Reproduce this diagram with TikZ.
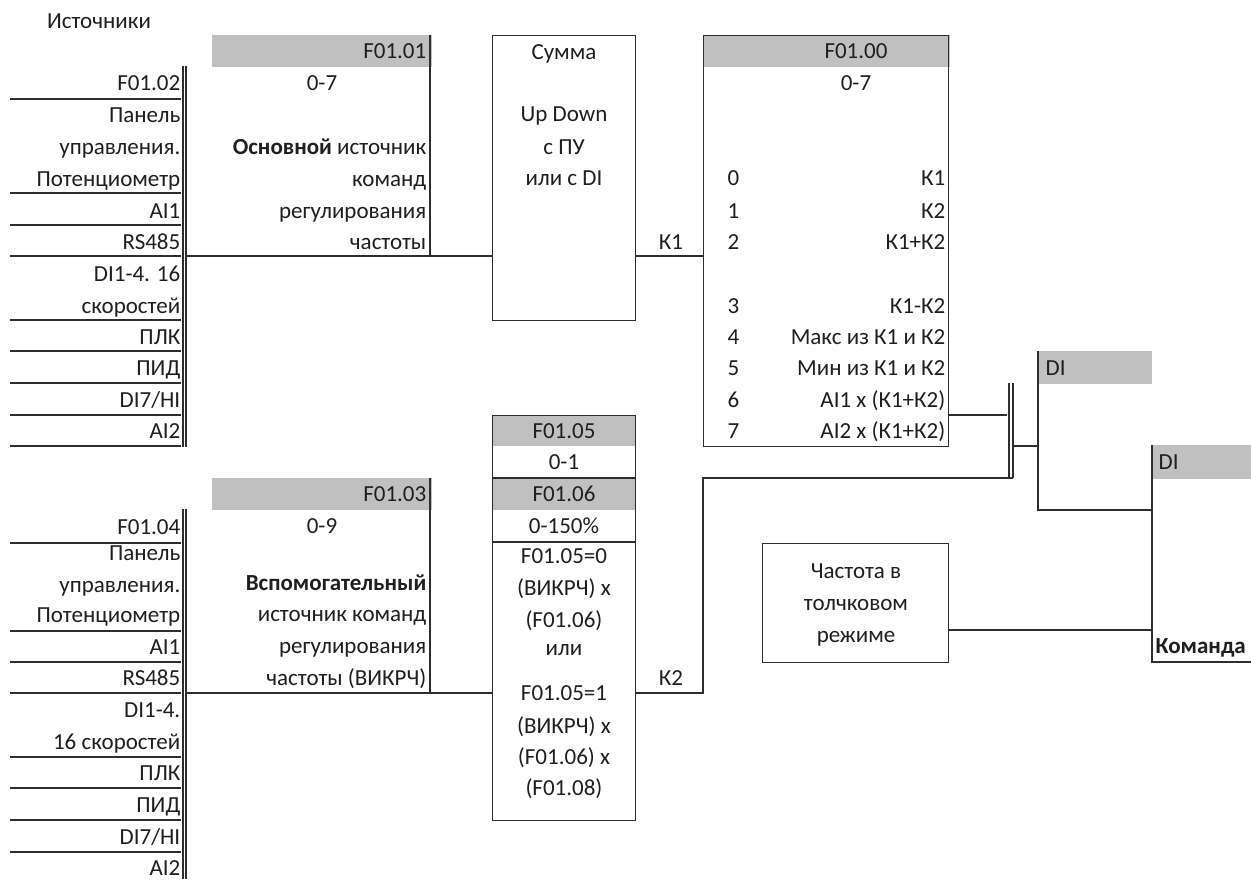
\documentclass[tikz,border=0pt]{standalone}
\usepackage{fontspec}
\setmainfont{Carlito}
\definecolor{ln}{HTML}{2E2E2E}
\definecolor{tx}{HTML}{1F1F1F}
\definecolor{hd}{HTML}{C0C0C0}
\begin{document}
\begin{tikzpicture}[x=1pt,y=-1pt,
  line width=1.4pt, color=ln,
  txt/.style={font=\fontsize{23}{27}\selectfont, text=tx, inner sep=0pt},
  tR/.style={txt, anchor=base east},
  tL/.style={txt, anchor=base west},
  tC/.style={txt, anchor=base},
  box/.style={draw=ln, line width=1.4pt, inner sep=0pt, anchor=north west},
  hdr/.style={fill=hd}]
\useasboundingbox (0,0) rectangle (1251,879);
\fill[white] (0,0) rectangle (1251,879);

% ---------- title
\node[tC] (title) at (99,21+7) {Источники};

% ---------- source list 1
\foreach \t/\y [count=\i] in {F01.02/83, Панель/115, управления./147, Потенциометр/179, AI1/211, RS485/242, {DI1-4. 16}/274, скоростей/306, ПЛК/337, ПИД/368, {DI7/HI}/400, AI2/431}
  \node[tR] (sa\i) at (181,\y+7) {\t};
\foreach \y in {99,193,225,256,320,351,383,415,446}
  \draw (10,\y) -- (181,\y);
\draw (183,66) -- (183,447);
\draw (186,66) -- (186,447);
\coordinate (bus1) at (186,256);

% ---------- F01.01
\fill[hdr] (212,35) rectangle (432,67);
\draw (430,35) -- (430,256);
\node[tR] (f101) at (427,51+7) {F01.01};
\node[tC] (f101r) at (322,83+7) {0-7};
\node[tR] (f101a) at (427,147+7) {\textbf{Основной} источник};
\node[tR] (f101b) at (427,179+7) {команд};
\node[tR] (f101c) at (427,211+7) {регулирования};
\node[tR] (f101d) at (427,242+7) {частоты};

% ---------- Сумма
\node[box, minimum width=143pt, minimum height=285pt] (summa) at (492,35) {};
\node[tC] (su1) at (564,52+7) {Сумма};
\node[tC] (su2) at (564,114+7) {Up Down};
\node[tC] (su3) at (564,147+7) {с ПУ};
\node[tC] (su4) at (564,178+7) {или с DI};
\draw (bus1) -- (summa.west |- bus1);

% ---------- F01.00
\fill[hdr] (703,35) rectangle (950,67);
\node[box, minimum width=245pt, minimum height=411pt] (f100) at (703,35) {};
\node[tC] (f100h) at (856,51+7) {F01.00};
\node[tC] (f100r) at (856,83+7) {0-7};
\foreach \n/\t/\y in {0/К1/178, 1/К2/211, 2/К1+К2/242, 3/К1-К2/306, 4/Макс из К1 и К2/337, 5/Мин из К1 и К2/368, 6/AI1 x (К1+К2)/400, 7/AI2 x (К1+К2)/431}{
  \node[tL] (num\n) at (727,\y+7) {\n};
  \node[tR] (opt\n) at (946,\y+7) {\t};
}
\draw (summa.east |- bus1) -- (f100.west |- bus1);
\node[tC] (k1) at (671,242+7) {К1};

% ---------- F01.05 / F01.06 block
\fill[hdr] (492,415) rectangle (635,446);
\fill[hdr] (492,478) rectangle (635,510);
\node[box, minimum width=143pt, minimum height=405pt] (f105) at (492,415) {};
\draw (f105.west |- 0,478) -- (f105.east |- 0,478);
\draw (f105.west |- 0,542) -- (f105.east |- 0,542);
\foreach \t/\y [count=\i] in {F01.05/431, 0-1/462, F01.06/494, 0-150\%/526, F01.05=0/556, (ВИКРЧ) x/588, (F01.06)/620, или/648, F01.05=1/693, (ВИКРЧ) x/726, (F01.06) x/757, (F01.08)/788}
  \node[tC] (fb\i) at (564,\y+7) {\t};

% ---------- F01.03
\fill[hdr] (212,478) rectangle (432,510);
\draw (430,478) -- (430,693);
\node[tR] (f103) at (427,494+7) {F01.03};
\node[tC] (f103r) at (322,526+7) {0-9};
\node[tR] (f103a) at (427,583+7) {\textbf{Вспомогательный}};
\node[tR] (f103b) at (427,614+7) {источник команд};
\node[tR] (f103c) at (427,646+7) {регулирования};
\node[tR] (f103d) at (427,678+7) {частоты (ВИКРЧ)};

% ---------- source list 2
\foreach \t/\y [count=\i] in {F01.04/527, Панель/553, управления./585, Потенциометр/615, AI1/647, RS485/678, DI1-4./710, 16 скоростей/742, ПЛК/773, ПИД/805, {DI7/HI}/837, AI2/868}
  \node[tR] (sb\i) at (181,\y+7) {\t};
\foreach \y in {543,631,662,693,757,788,820,852}
  \draw (10,\y) -- (181,\y);
\draw (183,509) -- (183,879);
\draw (186,509) -- (186,879);
\coordinate (bus2) at (186,693);
\draw (bus2) -- (f105.west |- bus2);

% ---------- K2 path
\coordinate (k2c) at (703,478);
\coordinate (jn) at (1013,478);
\draw (f105.east |- bus2) -- (k2c |- bus2) -- (k2c) -- (jn);
\node[tC] (k2) at (671,678+7) {К2};

% ---------- F01.00 output and junction
\coordinate (out1) at (1007,415);
\draw (f100.east |- out1) -- (out1);
\draw (1009,383) -- (1009,477);
\draw (1013,383) -- (1013,478);
\coordinate (jm) at (1013,446);

% ---------- DI 1
\fill[hdr] (1038,351) rectangle (1152,384);
\coordinate (di1t) at (1038,351);
\coordinate (di1b) at (1038,510);
\draw (di1t) -- (di1b) -- (1152,510);
\draw (jm) -- (di1t |- jm);
\node[tL] (di1) at (1045,368+7) {DI};

% ---------- DI 2
\fill[hdr] (1152,445) rectangle (1251,479);
\coordinate (di2t) at (1152,445);
\coordinate (di2b) at (1152,662);
\draw (di2t) -- (di2b) -- (1251,662);
\node[tL] (di2) at (1158,462+7) {DI};
\node[tL] (cmd) at (1155,646+7) {\textbf{Команда}};

% ---------- Jog
\node[box, minimum width=186pt, minimum height=119pt] (jog) at (762,543) {};
\node[tC] (jg1) at (856,571+7) {Частота в};
\node[tC] (jg2) at (856,603+7) {толчковом};
\node[tC] (jg3) at (856,635+7) {режиме};
\draw (jog.east |- 0,630) -- (di2t |- 0,630);
\end{tikzpicture}
\end{document}
